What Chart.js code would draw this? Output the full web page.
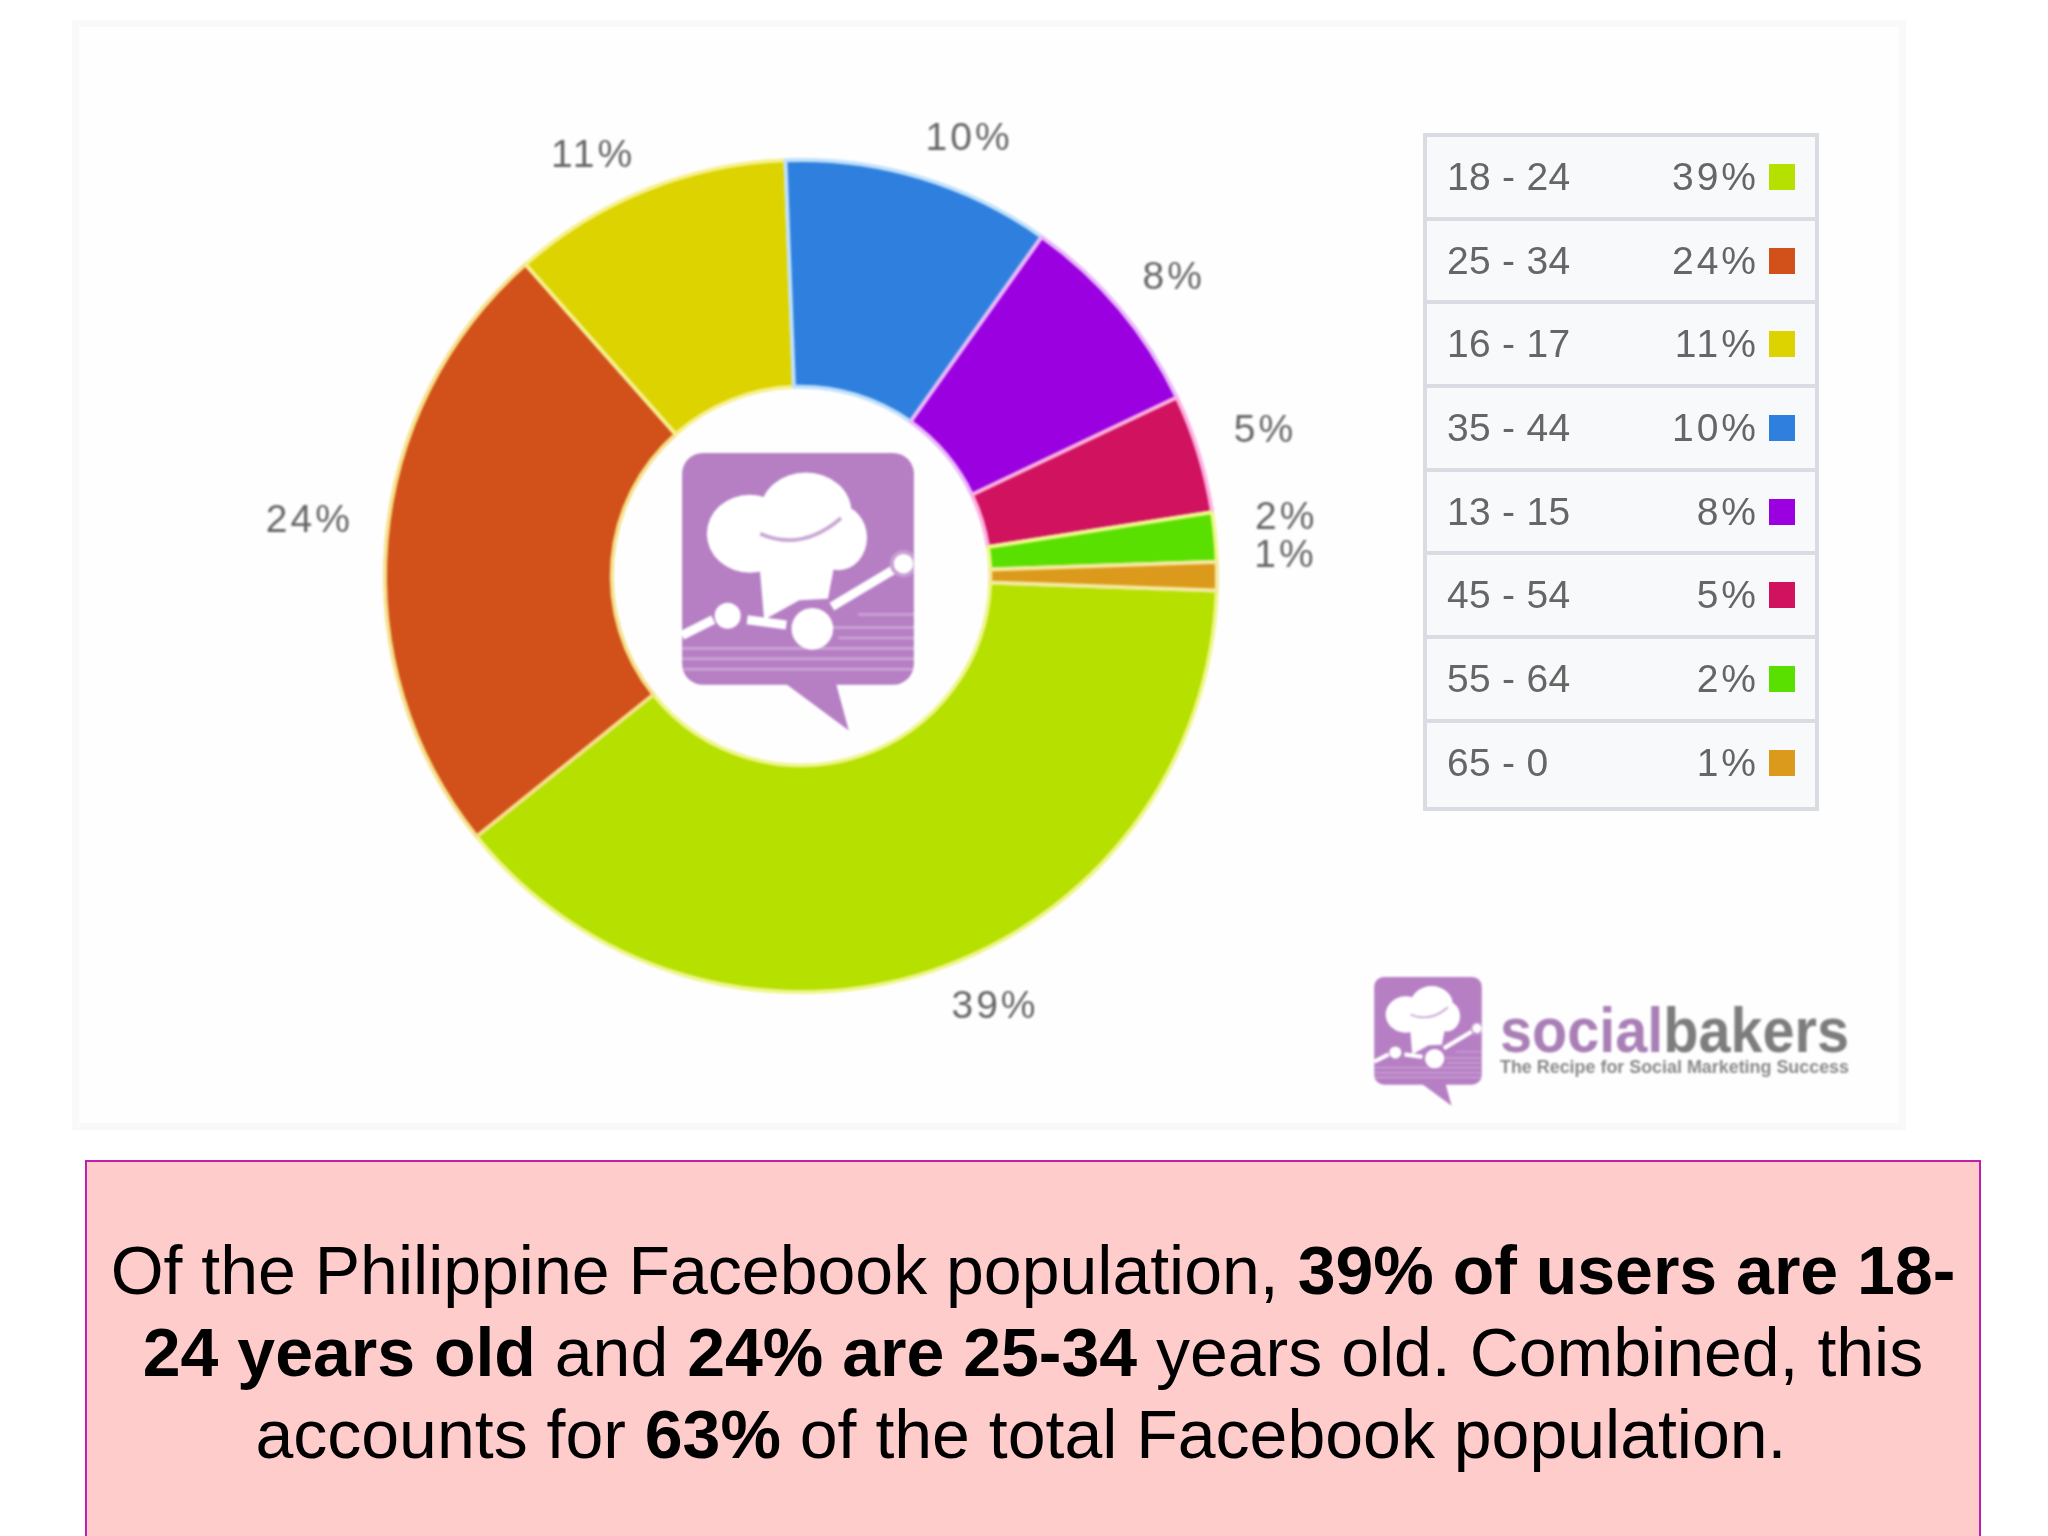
<!DOCTYPE html>
<html>
<head>
<meta charset="utf-8">
<title>Philippine Facebook age groups</title>
<script src="https://cdn.jsdelivr.net/npm/chart.js@4"></script>
<style>
  html, body { margin: 0; background: #fff; }
  body { position: relative; width: 2048px; height: 1536px; overflow: hidden; font-family: "Liberation Sans", Arial, sans-serif; }
  .panel { position: absolute; left: 72px; top: 20px; width: 1820px; height: 1096px; border: 7px solid #f9f9f9; background: #fffeff; }
  .chart-box { position: absolute; left: 101px; top: 30px; width: 1400px; height: 1092px; filter: blur(0.8px); }
  .logo-center { position: absolute; left: 682px; top: 453px; width: 232px; height: 280px; filter: blur(1px); }
  .logo-small { position: absolute; left: 1374px; top: 977px; width: 108px; height: 130px; filter: blur(1.2px); }
  .brand { position: absolute; left: 1490px; top: 990px; width: 370px; height: 100px; filter: blur(0.9px); }
  #legend { position: absolute; left: 1423px; top: 133px; width: 396px; border: 4px solid #d9dce2; box-sizing: border-box; background: #f8f9fb; filter: blur(0.7px); }
  .row { position: relative; height: 83.7px; box-sizing: border-box; border-bottom: 4px solid #d9dce2; color: #666; font-size: 39px; }
  .row:last-child { border-bottom: 0; }
  .row .age { position: absolute; left: 20px; top: 18px; letter-spacing: 0.3px; }
  .row .pct { position: absolute; right: 56px; top: 18px; letter-spacing: 3px; }
  .row .swatch { position: absolute; left: 342px; top: 27px; width: 26px; height: 26px; }
  .note { position: absolute; left: 85px; top: 1160px; width: 1892px; height: 380px; border: 2px solid #c01fb0; background: #ffcccc; color: #000; font-size: 68px; line-height: 82px; text-align: center; box-sizing: content-box; }
  .note div { position: absolute; left: 0; right: 0; top: 67px; }
  .note .last { padding-right: 24px; }
</style>
</head>
<body>
<div class="panel"></div>
<div class="chart-box"><canvas id="age-chart"></canvas></div>

<svg width="0" height="0" style="position:absolute">
  <symbol id="logo" viewBox="0 0 178 215">
    <rect x="0" y="0" width="178" height="178" rx="16" fill="#b67fc4"/>
    <polygon points="78,176 118,176 128,213" fill="#b67fc4"/>
    <g stroke="#fff" stroke-width="2" opacity="0.3">
      <line x1="0" y1="150" x2="178" y2="150"/><line x1="0" y1="158" x2="178" y2="158"/>
      <line x1="0" y1="166" x2="178" y2="166"/><line x1="115" y1="134" x2="178" y2="134"/>
      <line x1="120" y1="142" x2="178" y2="142"/><line x1="135" y1="124" x2="178" y2="124"/>
    </g>
    <g fill="#fff">
      <ellipse cx="52" cy="62" rx="33" ry="30"/>
      <ellipse cx="95" cy="45" rx="35" ry="30"/>
      <ellipse cx="120" cy="65" rx="22" ry="25"/>
      <polygon points="58,70 120,70 112,112 90,113 63,128"/>
      <circle cx="35" cy="125" r="10"/>
      <circle cx="100" cy="135" r="16"/>
    </g>
    <path d="M60 62 Q92 76 122 50" fill="none" stroke="#c9a6d4" stroke-width="3"/>
    <g stroke="#fff" stroke-width="7" fill="none">
      <line x1="0" y1="140" x2="24" y2="128"/>
      <line x1="50" y1="128" x2="80" y2="132"/>
      <line x1="115" y1="118" x2="165" y2="88"/>
    </g>
    <circle cx="170" cy="85" r="9" fill="#fff" stroke="#c79fd2" stroke-width="3"/>
  </symbol>
</svg>
<svg class="logo-center"><use href="#logo"/></svg>
<svg class="logo-small"><use href="#logo"/></svg>
<svg class="brand" viewBox="0 0 370 100">
  <text x="10" y="62" font-family="Liberation Sans" font-size="63" font-weight="bold" textLength="349" lengthAdjust="spacingAndGlyphs"><tspan fill="#a97fb6">social</tspan><tspan fill="#7d7d7d">bakers</tspan></text>
  <text x="10" y="83" font-family="Liberation Sans" font-size="18" font-weight="bold" fill="#888" textLength="349" lengthAdjust="spacingAndGlyphs">The Recipe for Social Marketing Success</text>
</svg>

<div id="legend"></div>

<div class="note"><div>Of the Philippine Facebook population, <b>39% of users are 18-</b><br><b>24 years old</b> and <b>24% are 25-34</b> years old. Combined, this<br><span class="last">accounts for <b>63%</b> of the total Facebook population.</span></div></div>

<script>
const ageGroups = ["18 - 24", "25 - 34", "16 - 17", "35 - 44", "13 - 15", "45 - 54", "55 - 64", "65 - 0"];
// printed percentages
const shares = [39, 24, 11, 10, 8, 5, 2, 1];
// slice sizes as measured off the ring, they round to the printed ones
const sliceSizes = [38.6, 24.2, 10.9, 10.4, 8.1, 4.6, 1.9, 1.1];
const sliceColors = ["#b5e000", "#d2501a", "#dcd300", "#2f80de", "#9a00e0", "#d0125f", "#5ae000", "#dc9a1c"];
const sliceEdges = ["#eef58a", "#f5e08a", "#f6f08c", "#bfe0fb", "#e9b8fb", "#fbb0e0", "#eef78a", "#f3e9a0"];

// how far each outside label sits from its slice: px past the rim, degrees along it
const labelGap = [54, 79, 55, 55, 63, 71, 73, 69];
const labelTurn = [-6, 1.8, -4.4, 4.3, 1.1, -0.55, -1.7, -2.7];

const outsideLabels = {
  id: "outsideLabels",
  afterDatasetsDraw(chart) {
    const { ctx } = chart;
    const arcs = chart.getDatasetMeta(0).data;
    ctx.save();
    ctx.font = '39px "Liberation Sans"';
    ctx.letterSpacing = "3px";
    ctx.fillStyle = "#666";
    ctx.textAlign = "center";
    ctx.textBaseline = "middle";
    arcs.forEach((arc, i) => {
      const mid = (arc.startAngle + arc.endAngle) / 2 + (labelTurn[i] * Math.PI) / 180;
      const r = arc.outerRadius + labelGap[i];
      ctx.fillText(`${shares[i]}%`, arc.x + r * Math.cos(mid), arc.y + r * Math.sin(mid) + 3);
    });
    ctx.restore();
  },
};

function renderLegend() {
  document.getElementById("legend").innerHTML = ageGroups
    .map(
      (age, i) => `
    <div class="row">
      <span class="age">${age}</span>
      <span class="pct">${shares[i]}%</span>
      <span class="swatch" style="background:${sliceColors[i]}"></span>
    </div>
  `
    )
    .join("");
}

renderLegend();

new Chart(document.getElementById("age-chart"), {
  type: "doughnut",
  data: {
    labels: ageGroups,
    datasets: [
      {
        data: sliceSizes,
        backgroundColor: sliceColors,
        borderColor: sliceEdges,
        borderWidth: 4,
        hoverOffset: 0,
      },
    ],
  },
  options: {
    responsive: true,
    maintainAspectRatio: false,
    animation: false,
    rotation: 92,
    cutout: "45.5%",
    layout: { padding: 128 },
    plugins: {
      legend: { display: false },
      tooltip: { enabled: false },
    },
  },
  plugins: [outsideLabels],
});
</script>
</body>
</html>
